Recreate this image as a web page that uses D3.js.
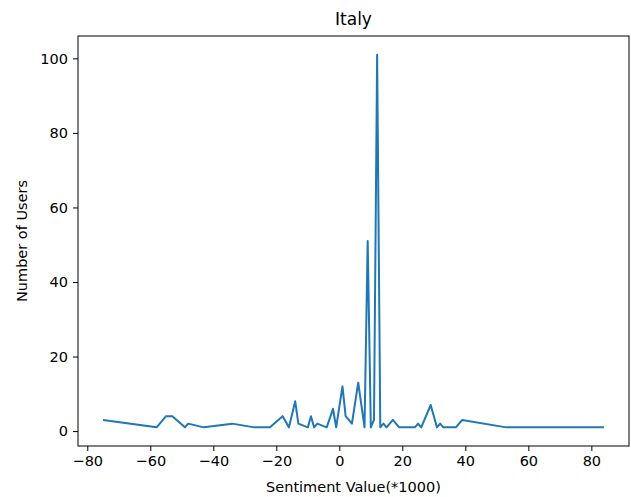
<!DOCTYPE html>
<html>
<head>
<meta charset="utf-8">
<script src="https://cdn.jsdelivr.net/npm/d3@7"></script>
<style>
  body { margin: 0; background: #fff; }
  text { font-family: "DejaVu Sans", sans-serif; fill: #000; }
</style>
</head>
<body>
<div id="chart"></div>
<script>
// sentiment value (*1000) and number of users
var sentiment = [-75, -58, -55, -53, -49, -48, -43, -34, -27, -22, -18, -16, -14, -13, -10, -9, -8, -7, -4, -2, -1,
                 1, 2, 4, 6, 8, 9, 10, 11, 12, 13, 14, 15, 17, 19, 24, 25, 26, 29, 31, 32, 33, 37, 39, 53, 84];
var users = [3, 1, 4, 4, 1, 2, 1, 2, 1, 1, 4, 1, 8, 2, 1, 4, 1, 2, 1, 6, 1,
             12, 4, 2, 13, 1, 51, 1, 3, 101, 1, 2, 1, 3, 1, 1, 2, 1, 7, 1, 2, 1, 1, 3, 1, 1];
var xTicks = [-80, -60, -40, -20, 0, 20, 40, 60, 80];
var yTicks = [0, 20, 40, 60, 80, 100];

var width = 631, height = 497;
var margin = {top: 36, right: 2, bottom: 51, left: 78};

var svg = d3.select("#chart").append("svg")
    .attr("width", width)
    .attr("height", height);

var data = sentiment.map((s, i) => ({x: s, y: users[i]}));

var xr = d3.extent(sentiment), yr = d3.extent(users);
var xpad = (xr[1] - xr[0]) * 0.05, ypad = (yr[1] - yr[0]) * 0.05;

var x = d3.scaleLinear()
    .domain([xr[0] - xpad, xr[1] + xpad])
    .range([margin.left, width - margin.right]);
var y = d3.scaleLinear()
    .domain([yr[0] - ypad, yr[1] + ypad])
    .range([height - margin.bottom, margin.top]);

var minus = d => d3.format("d")(d).replace("-", "\u2212");

var xAxis = svg.append("g")
    .attr("transform", "translate(0," + (height - margin.bottom) + ")")
    .call(d3.axisBottom(x).tickValues(xTicks).tickSize(5).tickPadding(5).tickFormat(minus));
var yAxis = svg.append("g")
    .attr("transform", "translate(" + margin.left + ",0)")
    .call(d3.axisLeft(y).tickValues(yTicks).tickSize(5).tickPadding(5).tickFormat(minus));

[xAxis, yAxis].forEach(g => {
  g.select(".domain").remove();
  g.selectAll("text").style("font-size", "14.5px").style("font-family", "DejaVu Sans");
  g.selectAll("line").attr("stroke", "#000").attr("stroke-width", 1);
});

svg.append("rect")
    .attr("x", margin.left)
    .attr("y", margin.top)
    .attr("width", width - margin.right - margin.left)
    .attr("height", height - margin.bottom - margin.top)
    .attr("fill", "none")
    .attr("stroke", "#000")
    .attr("stroke-width", 1);

svg.append("path")
    .datum(data)
    .attr("fill", "none")
    .attr("stroke", "#1f77b4")
    .attr("stroke-width", 2)
    .attr("stroke-linejoin", "round")
    .attr("d", d3.line().x(d => x(d.x)).y(d => y(d.y)));

svg.append("text")
    .attr("x", (margin.left + width - margin.right) / 2)
    .attr("y", 25)
    .attr("text-anchor", "middle")
    .style("font-size", "17px")
    .text("Italy");

svg.append("text")
    .attr("x", (margin.left + width - margin.right) / 2)
    .attr("y", 492)
    .attr("text-anchor", "middle")
    .style("font-size", "14.5px")
    .text("Sentiment Value(*1000)");

svg.append("text")
    .attr("transform", "translate(27," + ((margin.top + height - margin.bottom) / 2) + ") rotate(-90)")
    .attr("text-anchor", "middle")
    .style("font-size", "14.5px")
    .text("Number of Users");
</script>
</body>
</html>
